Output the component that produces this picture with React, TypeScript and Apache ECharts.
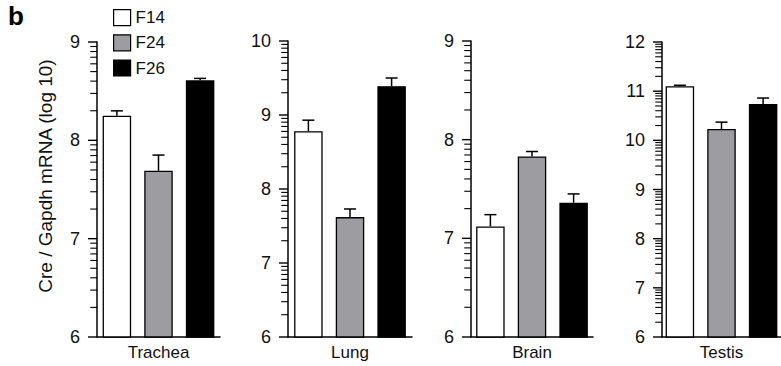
import React, { useEffect, useRef } from "react";
import * as echarts from "echarts";

const groups = ["F14", "F24", "F26"];
const tissues = ["Trachea", "Lung", "Brain", "Testis"];
const yMin = [6, 6, 6, 6];
const yMax = [9, 10, 9, 12];
// mean values (log10) per tissue, order F14, F24, F26
const trachea = [8.25, 7.69, 8.61];
const lung = [8.78, 7.62, 9.39];
const brain = [7.12, 7.83, 7.36];
const testis = [11.1, 10.23, 10.74];
// error (upper) per tissue
const tracheaErr = [0.05, 0.16, 0.02];
const lungErr = [0.15, 0.11, 0.11];
const brainErr = [0.12, 0.05, 0.09];
const testisErr = [0.02, 0.14, 0.12];
// log-scale tick multipliers within each decade (1 = major tick)
const tickSteps = [1, 2, 3, 4, 5, 6, 7, 8, 9];

const values = [trachea, lung, brain, testis];
const errs = [tracheaErr, lungErr, brainErr, testisErr];

const colors = ["#ffffff", "#9d9ca1", "#000000"];
const FONT = "'Liberation Sans', Arial, Helvetica, sans-serif";
const gridBoxes = [
  { left: 97, width: 123, top: 42, height: 295 },
  { left: 288, width: 124, top: 41, height: 296 },
  { left: 471, width: 122, top: 41, height: 296 },
  { left: 662, width: 123, top: 42, height: 295 },
];
const TICK_W = 9;
const BAR_W = 28.5;
const BAR_GAP = 0.46;

export default function App() {
  const ref = useRef<HTMLDivElement>(null);
  useEffect(() => {
    if (!ref.current) return;
    const chart = echarts.init(ref.current, undefined, { renderer: "svg" });

    const grid: any[] = [];
    const xAxis: any[] = [];
    const yAxis: any[] = [];
    const series: any[] = [];

    const total = 3 * BAR_W + 2 * BAR_GAP * BAR_W;
    const offsets = [0, 1, 2].map((i) => -total / 2 + i * (BAR_W + BAR_GAP * BAR_W) + BAR_W / 2);

    tissues.forEach((t, p) => {
      grid.push({ ...gridBoxes[p], containLabel: false });
      xAxis.push({
        type: "category",
        gridIndex: p,
        data: [t],
        axisTick: { show: false },
        axisLine: { lineStyle: { color: "#000", width: 1.5 } },
        axisLabel: { color: "#111", fontSize: 17, fontFamily: FONT, margin: 7 },
      });
      yAxis.push({
        type: "value",
        gridIndex: p,
        min: yMin[p],
        max: yMax[p],
        interval: 1,
        splitLine: { show: false },
        axisLine: { show: true, lineStyle: { color: "#000", width: 1.5 } },
        axisTick: { show: false },
        axisLabel: { color: "#111", fontSize: 18, fontFamily: FONT, margin: 17 },
      });
      groups.forEach((g, i) => {
        series.push({
          type: "bar",
          name: g,
          xAxisIndex: p,
          yAxisIndex: p,
          barWidth: BAR_W,
          barGap: BAR_GAP * 100 + "%",
          data: [values[p][i]],
          itemStyle: { color: colors[i], borderColor: "#000", borderWidth: 1.3 },
          z: 2,
        });
      });
      series.push({
        type: "custom",
        xAxisIndex: p,
        yAxisIndex: p,
        z: 3,
        clip: false,
        data: values[p].map((v, i) => [0, v, v + errs[p][i]]),
        encode: { x: 0, y: 1 },
        renderItem: (params: any, api: any) => {
          const i = params.dataIndex;
          const a = api.coord([0, api.value(1)]);
          const b = api.coord([0, api.value(2)]);
          const x = a[0] + offsets[i];
          const style = { stroke: "#000", lineWidth: 1.5 };
          return {
            type: "group",
            children: [
              { type: "line", shape: { x1: x, y1: a[1], x2: x, y2: b[1] }, style },
              { type: "line", shape: { x1: x - 6, y1: b[1], x2: x + 6, y2: b[1] }, style },
            ],
          };
        },
      });
    });

    // tick strips: a hidden grid just left of each panel's y axis
    tissues.forEach((t, p) => {
      const gi = tissues.length + p;
      const gb = gridBoxes[p];
      grid.push({ left: gb.left - TICK_W, width: TICK_W, top: gb.top, height: gb.height });
      xAxis.push({ type: "value", gridIndex: gi, min: 0, max: 1, show: false });
      yAxis.push({ type: "value", gridIndex: gi, min: yMin[p], max: yMax[p], show: false });
      const ticks: number[][] = [];
      for (let d = yMin[p]; d < yMax[p]; d++) {
        tickSteps.forEach((k) => ticks.push([k === 1 ? 0 : 0.25, d + Math.log10(k)]));
      }
      ticks.push([0, yMax[p]]);
      series.push({
        type: "custom",
        xAxisIndex: gi,
        yAxisIndex: gi,
        z: 5,
        clip: false,
        data: ticks,
        encode: { x: 0, y: 1 },
        renderItem: (params: any, api: any) => {
          const s = api.coord([api.value(0), api.value(1)]);
          const e = api.coord([1, api.value(1)]);
          return {
            type: "line",
            shape: { x1: s[0], y1: s[1], x2: e[0], y2: e[1] },
            style: { stroke: "#000", lineWidth: api.value(0) === 0 ? 1.4 : 1.1 },
          };
        },
      });
    });

    chart.setOption({
      animation: false,
      backgroundColor: "#fff",
      title: {
        text: "b",
        left: 3,
        top: -2,
        textStyle: { fontSize: 26, fontWeight: "bold", fontFamily: FONT, color: "#000" },
      },
      legend: {
        data: groups,
        orient: "vertical",
        left: 108,
        top: 4,
        itemWidth: 17,
        itemHeight: 16,
        itemGap: 8,
        icon: "rect",
        selectedMode: false,
        itemStyle: { borderColor: "#000", borderWidth: 1.2 },
        textStyle: { fontSize: 17, fontFamily: FONT, color: "#111" },
      },
      graphic: [
        {
          type: "text",
          x: 45,
          y: 176,
          rotation: Math.PI / 2,
          style: {
            text: "Cre / Gapdh mRNA (log 10)",
            fontSize: 19,
            fontFamily: FONT,
            fill: "#111",
            align: "center",
            verticalAlign: "middle",
          },
        },
      ],
      grid,
      xAxis,
      yAxis,
      series,
    });
    return () => chart.dispose();
  }, []);
  return (
    <div
      ref={ref}
      style={{ position: "absolute", left: 0, top: 0, width: 781, height: 366 }}
    />
  );
}
